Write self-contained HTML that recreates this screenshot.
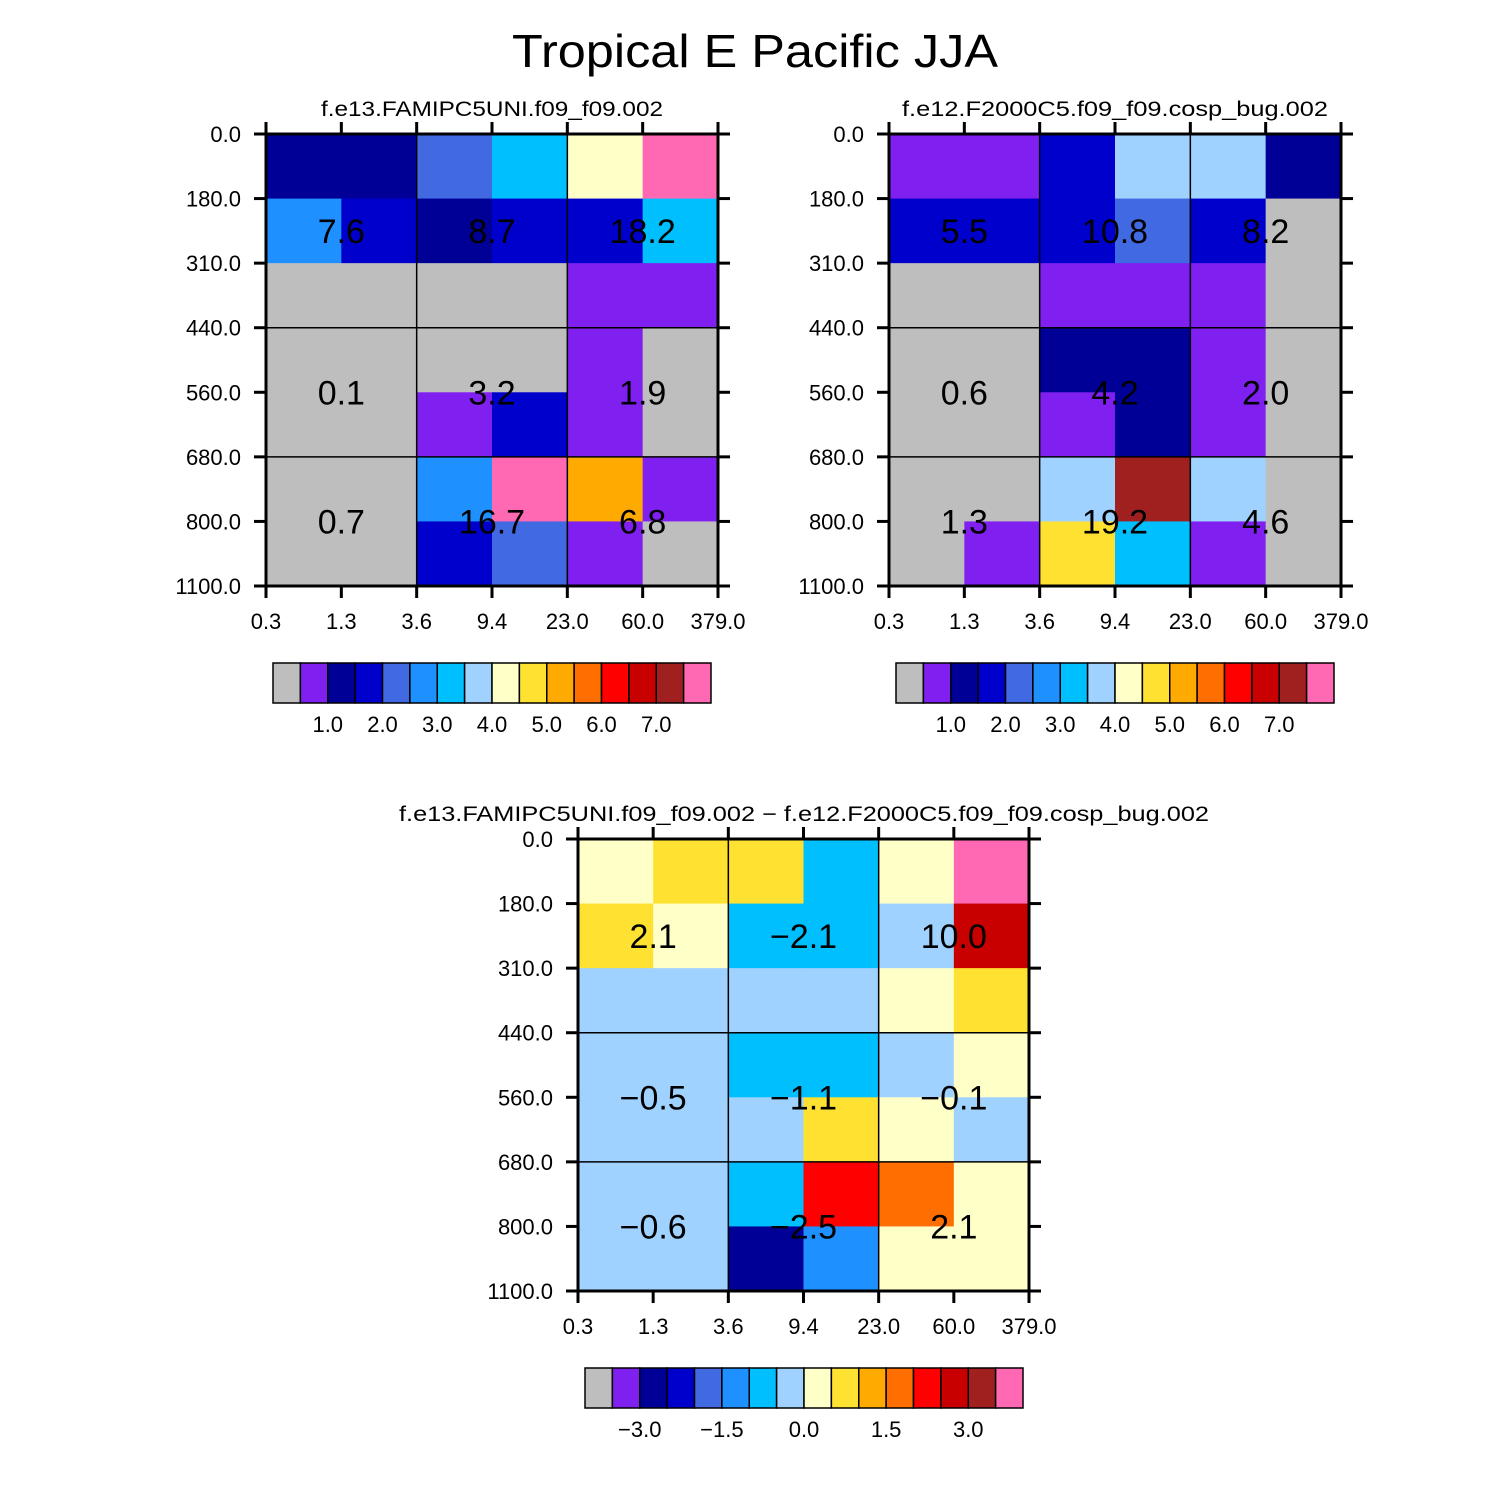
<!DOCTYPE html>
<html><head><meta charset="utf-8"><style>
html,body{margin:0;padding:0;background:#fff;width:1510px;height:1510px;overflow:hidden}
svg{display:block;font-family:"Liberation Sans",sans-serif}
</style></head><body>
<svg id="fig" width="1510" height="1510" viewBox="0 0 1510 1510" xmlns="http://www.w3.org/2000/svg">
<rect width="1510" height="1510" fill="#fff"/>
<text x="755" y="67" font-size="46" text-anchor="middle" textLength="486" lengthAdjust="spacingAndGlyphs" fill="#000">Tropical E Pacific JJA</text>
</svg>
<script>
// ---- data ----
const xTickLabels = ["0.3","1.3","3.6","9.4","23.0","60.0","379.0"];
const yTickLabels = ["0.0","180.0","310.0","440.0","560.0","680.0","800.0","1100.0"];
const palette = ["#BEBEBE","#8020F0","#000096","#0000CD","#4169E1","#1E90FF","#00BFFF","#A0D2FF","#FFFFC8","#FFE132","#FFAA00","#FF6E00","#FF0000","#C80000","#A02020","#FF69B4"];
const levelsAbs = [0.5,1.0,1.5,2.0,2.5,3.0,3.5,4.0,4.5,5.0,5.5,6.0,6.5,7.0,7.5];
const levelsDiff = [-3.5,-3.0,-2.5,-2.0,-1.5,-1.0,-0.5,0.0,0.5,1.0,1.5,2.0,2.5,3.0,3.5];
const cbLabelsAbs = ["1.0","2.0","3.0","4.0","5.0","6.0","7.0"];
const cbLabelsDiff = ["-3.0","-1.5","0.0","1.5","3.0"];
// cell values, rows top (0 hPa) to bottom (1100), 6 columns
const valuesA = [
 [1.25,1.25,2.25,3.25,4.25,8.5],
 [2.75,1.75,1.25,1.75,1.75,3.25],
 [0,0,0,0,0.75,0.75],
 [0,0,0,0,0.75,0],
 [0,0,0.75,1.75,0.75,0],
 [0,0,2.75,8.5,5.25,0.75],
 [0,0,1.75,2.25,0.75,0]];
const valuesB = [
 [0.75,0.75,1.75,3.75,3.75,1.25],
 [1.75,1.75,1.75,2.25,1.75,0],
 [0,0,0.75,0.75,0.75,0],
 [0,0,1.25,1.25,0.75,0],
 [0,0,0.75,1.25,0.75,0],
 [0,0,3.75,7.25,3.75,0],
 [0,0.75,4.75,3.25,0.75,0]];
const valuesD = [
 [0.25,0.75,0.75,-0.75,0.25,4.5],
 [0.75,0.25,-0.75,-0.75,-0.25,2.75],
 [-0.25,-0.25,-0.25,-0.25,0.25,0.75],
 [-0.25,-0.25,-0.75,-0.75,-0.25,0.25],
 [-0.25,-0.25,-0.25,0.75,0.25,-0.25],
 [-0.25,-0.25,-0.75,2.25,1.75,0.25],
 [-0.25,-0.25,-2.75,-1.25,0.25,0.25]];
const blockLabelsA = [["7.6","8.7","18.2"],["0.1","3.2","1.9"],["0.7","16.7","6.8"]];
const blockLabelsB = [["5.5","10.8","8.2"],["0.6","4.2","2.0"],["1.3","19.2","4.6"]];
const blockLabelsD = [["2.1","-2.1","10.0"],["-0.5","-1.1","-0.1"],["-0.6","-2.5","2.1"]];
const blockRows = [[0,3],[3,5],[5,7]];
const blockColTick = [1,3,5];

// ---- drawing ----
const NS="http://www.w3.org/2000/svg";
const svg=document.getElementById('fig');
function mk(tag,attrs,parent){const e=document.createElementNS(NS,tag);for(const k in attrs)e.setAttribute(k,attrs[k]);(parent||svg).appendChild(e);return e;}
function colorIdx(v,levels,missingGray){
  if(missingGray && v===0) return 0;
  let i=0; while(i<levels.length && v>levels[i]) i++; return i;
}
function fmt(s){return s.replace(/^-/,"\u2212");}

function panel(name,x0,y0,w,h,vals,levels,gray0,labels,subtitle,cb){
  const g=mk('g',{});
  
  
  const nx=6, ny=7;
  const X=i=>x0+i*w/nx, Y=j=>y0+j*h/ny;
  vals.forEach((row,j)=>row.forEach((v,i)=>{
    const r=mk('rect',{x:X(i),y:Y(j),width:w/nx+0.5,height:h/ny+0.5,fill:palette[colorIdx(v,levels,gray0)]},g);
    
    
  }));
  [2,4].forEach(i=>mk('line',{x1:X(i),x2:X(i),y1:y0,y2:y0+h,stroke:'#000','stroke-width':1.5},g));
  [3,5].forEach(j=>mk('line',{x1:x0,x2:x0+w,y1:Y(j),y2:Y(j),stroke:'#000','stroke-width':1.5},g));
  labels.forEach((row,b)=>row.forEach((s,c)=>{
    const cy=(Y(blockRows[b][0])+Y(blockRows[b][1]))/2;
    const t=mk('text',{x:X(blockColTick[c]),y:cy+12,'font-size':34,'text-anchor':'middle',fill:'#000'},g);
    t.textContent=fmt(s);
    
    
  }));
  mk('rect',{x:x0,y:y0,width:w,height:h,fill:'none',stroke:'#000','stroke-width':3},g);
  for(let i=0;i<=nx;i++){
    mk('line',{x1:X(i),x2:X(i),y1:y0,y2:y0-12,stroke:'#000','stroke-width':3},g);
    mk('line',{x1:X(i),x2:X(i),y1:y0+h,y2:y0+h+12,stroke:'#000','stroke-width':3},g);
    const t=mk('text',{x:X(i),y:y0+h+43,'font-size':22,'text-anchor':'middle',fill:'#000'},g);
    t.textContent=xTickLabels[i];
    
    
  }
  for(let j=0;j<=ny;j++){
    mk('line',{x1:x0,x2:x0-12,y1:Y(j),y2:Y(j),stroke:'#000','stroke-width':3},g);
    mk('line',{x1:x0+w,x2:x0+w+12,y1:Y(j),y2:Y(j),stroke:'#000','stroke-width':3},g);
    const t=mk('text',{x:x0-25,y:Y(j)+8,'font-size':22,'text-anchor':'end',fill:'#000'},g);
    t.textContent=yTickLabels[j];
    
    
  }
  const st=mk('text',{x:subtitle.cx,y:y0-18,'font-size':21,'text-anchor':'middle',fill:'#000',textLength:subtitle.len,lengthAdjust:'spacingAndGlyphs'},g);
  st.textContent=subtitle.text;
  
  
  const cg=mk('g',{},g);
  
  
  const bw=(cb.x1-cb.x0)/palette.length;
  palette.forEach((c,k)=>{
    const r=mk('rect',{x:cb.x0+k*bw,y:cb.y0,width:bw,height:40,fill:c,stroke:'#000','stroke-width':1.5},cg);
    
    
  });
  cb.labels.forEach(s=>{
    const v=parseFloat(s);
    const k=cb.levels.indexOf(v)+1;
    const t=mk('text',{x:cb.x0+k*bw,y:cb.y0+69,'font-size':22,'text-anchor':'middle',fill:'#000'},cg);
    t.textContent=fmt(s);
    
    
  });
}

panel('panel-famipc5',266,134,452,452,valuesA,levelsAbs,true,blockLabelsA,
  {text:'f.e13.FAMIPC5UNI.f09_f09.002',cx:492,len:342},
  {x0:273,x1:711,y0:663,levels:levelsAbs,labels:cbLabelsAbs});
panel('panel-f2000c5',889,134,452,452,valuesB,levelsAbs,true,blockLabelsB,
  {text:'f.e12.F2000C5.f09_f09.cosp_bug.002',cx:1115,len:426},
  {x0:896,x1:1334,y0:663,levels:levelsAbs,labels:cbLabelsAbs});
panel('panel-difference',578,839,451,452,valuesD,levelsDiff,false,blockLabelsD,
  {text:'f.e13.FAMIPC5UNI.f09_f09.002 \u2212 f.e12.F2000C5.f09_f09.cosp_bug.002',cx:804,len:810},
  {x0:585,x1:1023,y0:1368,levels:levelsDiff,labels:cbLabelsDiff});
</script>
</body></html>
